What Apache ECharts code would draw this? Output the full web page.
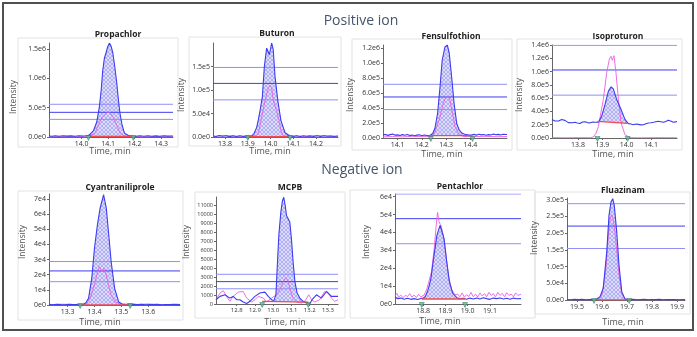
<!DOCTYPE html>
<html><head><meta charset="utf-8">
<script src="https://cdn.jsdelivr.net/npm/echarts@6/dist/echarts.min.js"></script>
<style>html,body{margin:0;padding:0;background:#fff}#c{width:697px;height:337px}</style>
</head><body><div id="c"></div>
<script>
// ---------- DATA ----------
const panelNames = ['Propachlor','Buturon','Fensulfothion','Isoproturon','Cyantraniliprole','MCPB','Pentachlor','Fluazinam'];

const propachlorBlue = [[13.877,18000],[13.89,12000],[13.90,20000],[13.915,14000],[13.93,22000],[13.945,15000],[13.96,19000],[13.975,12000],[13.99,21000],[14.005,16000],[14.015,20000],[14.026,25000],[14.035,60000],[14.045,110000],[14.057,250000],[14.067,510000],[14.074,800000],[14.080,1140000],[14.086,1340000],[14.092,1430000],[14.099,1540000],[14.105,1600000],[14.111,1550000],[14.118,1430000],[14.126,1170000],[14.133,910000],[14.139,630000],[14.145,400000],[14.153,200000],[14.162,65000],[14.177,26000],[14.19,18000],[14.205,12000],[14.22,20000],[14.235,14000],[14.25,22000],[14.265,13000],[14.28,19000],[14.295,12000],[14.31,21000],[14.325,15000],[14.345,18000]];
const propachlorPink = [[13.877,5000],[13.92,8000],[13.97,4000],[14.01,9000],[14.03,20000],[14.05,60000],[14.063,200000],[14.077,330000],[14.09,390000],[14.10,430000],[14.11,400000],[14.12,330000],[14.133,200000],[14.145,70000],[14.16,20000],[14.18,10000],[14.23,6000],[14.28,9000],[14.345,5000]];
const propachlorBase = [[14.026,10000],[14.195,10000]];
const propachlorLines = [557000,420000,300000];
const propachlorPeak = [14.105,1600000,'14.108'];

const buturonBlue = [[13.747,2000],[13.76,1000],[13.775,3000],[13.79,1500],[13.805,2500],[13.82,800],[13.835,2800],[13.85,1200],[13.865,2500],[13.88,1000],[13.895,2200],[13.907,1500],[13.917,2000],[13.928,8000],[13.939,20000],[13.947,38000],[13.954,56000],[13.964,85000],[13.973,150000],[13.983,189000],[13.990,186000],[13.995,175000],[14.005,200000],[14.012,186000],[14.020,128000],[14.032,78000],[14.046,35000],[14.064,9000],[14.086,2000],[14.10,1200],[14.115,2600],[14.13,1000],[14.145,2800],[14.16,1500],[14.175,2300],[14.19,1000],[14.205,2700],[14.22,1200],[14.235,2500],[14.25,1500],[14.265,2200],[14.28,1000],[14.297,2000]];
const buturonPink = [[13.747,1000],[13.80,3000],[13.85,1500],[13.90,2000],[13.935,3000],[13.946,6000],[13.964,49000],[13.976,78000],[13.990,103000],[13.998,110000],[14.005,105000],[14.012,78000],[14.027,56000],[14.037,35000],[14.046,13000],[14.056,2000],[14.10,2500],[14.15,1000],[14.20,3000],[14.297,1500]];
const buturonBase = [[13.900,500],[14.086,500]];
const buturonLines = [148000,114000,79000];
const buturonPeak = [14.005,200000,'13.983'];

const fensulfothionBlue = [[14.040,40000],[14.05,48000],[14.06,35000],[14.07,45000],[14.08,52000],[14.09,38000],[14.10,42000],[14.11,33000],[14.12,45000],[14.13,37000],[14.14,47000],[14.15,32000],[14.16,40000],[14.17,30000],[14.18,38000],[14.19,42000],[14.20,30000],[14.21,40000],[14.22,34000],[14.234,36000],[14.245,60000],[14.254,130000],[14.265,330000],[14.275,680000],[14.284,1040000],[14.295,1210000],[14.305,1240000],[14.313,1130000],[14.323,810000],[14.333,460000],[14.344,190000],[14.354,110000],[14.364,70000],[14.38,45000],[14.395,40000],[14.405,40000],[14.415,48000],[14.425,38000],[14.435,50000],[14.445,42000],[14.455,47000],[14.465,36000],[14.475,45000],[14.485,40000],[14.495,52000],[14.505,44000],[14.515,48000],[14.525,40000],[14.535,50000],[14.551,46000]];
const fensulfothionPink = [[14.040,15000],[14.08,20000],[14.12,15000],[14.16,22000],[14.20,18000],[14.24,20000],[14.254,80000],[14.275,280000],[14.288,460000],[14.299,540000],[14.309,550000],[14.316,500000],[14.327,320000],[14.337,150000],[14.351,60000],[14.371,20000],[14.41,18000],[14.46,22000],[14.51,17000],[14.551,20000]];
const fensulfothionBase = [[14.237,32000],[14.409,32000]];
const fensulfothionLines = [716000,547000,379000];
const fensulfothionPeak = [14.305,1240000,'14.287'];

const isoproturonBlue = [[13.693,280000],[13.698,277000],[13.705,255000],[13.712,236000],[13.72,255000],[13.726,267000],[13.733,280000],[13.739,287000],[13.746,265000],[13.753,247000],[13.76,232000],[13.767,217000],[13.777,230000],[13.787,236000],[13.797,225000],[13.808,217000],[13.818,240000],[13.829,245000],[13.839,232000],[13.849,225000],[13.86,240000],[13.870,236000],[13.884,236000],[13.897,327000],[13.911,505000],[13.925,706000],[13.936,770000],[13.945,740000],[13.959,580000],[13.977,430000],[13.993,280000],[14.007,217000],[14.018,210000],[14.028,200000],[14.038,210000],[14.048,205000],[14.058,198000],[14.069,200000],[14.079,215000],[14.089,225000],[14.10,230000],[14.110,236000],[14.12,245000],[14.130,253000],[14.14,245000],[14.151,236000],[14.161,250000],[14.171,267000],[14.181,255000],[14.192,236000],[14.20,245000],[14.207,247000]];
const isoproturonPink = [[13.693,5000],[13.75,3000],[13.80,5000],[13.85,4000],[13.863,15000],[13.874,70000],[13.884,176000],[13.894,380000],[13.904,580000],[13.918,985000],[13.929,1190000],[13.936,1230000],[13.941,1170000],[13.948,1240000],[13.956,985000],[13.966,580000],[13.977,230000],[13.993,50000],[14.014,5000],[14.06,3000],[14.12,5000],[14.207,4000]];
const isoproturonBase = [[13.880,250000],[14.004,220000]];
const isoproturonLines = [1395000,1024000,645000];
const isoproturonPeak = [13.936,770000,'13.923'];

const cyantraniliproleBlue = [[13.231,400],[13.245,200],[13.26,500],[13.275,300],[13.29,200],[13.305,400],[13.32,250],[13.335,350],[13.347,300],[13.359,500],[13.368,1500],[13.378,4400],[13.390,17700],[13.400,37500],[13.411,53000],[13.421,64000],[13.434,72800],[13.444,64000],[13.452,48500],[13.462,28700],[13.475,11000],[13.490,2000],[13.503,600],[13.515,300],[13.533,200],[13.545,400],[13.56,250],[13.575,400],[13.59,200],[13.605,350],[13.62,250],[13.635,400],[13.65,200],[13.665,350],[13.68,300],[13.695,400],[13.718,250]];
const cyantraniliprolePink = [[13.231,200],[13.28,500],[13.33,300],[13.37,600],[13.384,4400],[13.396,11000],[13.409,19900],[13.418,25400],[13.424,26500],[13.428,22100],[13.434,24300],[13.444,19900],[13.452,13200],[13.462,6600],[13.477,2200],[13.495,400],[13.53,800],[13.56,300],[13.60,700],[13.65,200],[13.718,400]];
const cyantraniliproleBase = [[13.347,0],[13.533,0]];
const cyantraniliproleLines = [28700,22500,15400];
const cyantraniliprolePeak = [13.434,72800,'13.433'];

const mcpbBlue = [[12.687,480],[12.709,850],[12.736,1030],[12.763,660],[12.781,850],[12.800,480],[12.818,480],[12.836,220],[12.855,60],[12.873,300],[12.900,850],[12.927,1220],[12.955,1330],[12.973,850],[12.991,480],[13.004,370],[13.015,1030],[13.022,3990],[13.031,7680],[13.042,10260],[13.051,11550],[13.058,11920],[13.066,11000],[13.073,9890],[13.082,9520],[13.091,9150],[13.100,7300],[13.109,4720],[13.119,2510],[13.131,1220],[13.146,660],[13.164,300],[13.183,110],[13.201,30],[13.213,480],[13.237,1030],[13.264,660],[13.292,1400],[13.319,850],[13.355,850]];
const mcpbPink = [[12.687,480],[12.709,1220],[12.727,1480],[12.745,850],[12.763,300],[12.781,850],[12.809,1330],[12.836,1400],[12.855,660],[12.882,220],[12.900,480],[12.918,850],[12.946,660],[12.964,220],[12.991,660],[13.018,1030],[13.037,1590],[13.055,2510],[13.069,2950],[13.082,2510],[13.096,1400],[13.109,660],[13.128,220],[13.155,110],[13.173,300],[13.195,1030],[13.210,480],[13.228,220],[13.255,480],[13.282,1400],[13.300,1220],[13.319,660],[13.337,300],[13.355,480]];
const mcpbBase = [[12.940,300],[13.192,220]];
const mcpbLines = [3320,2500,1700];
const mcpbPeak = [13.058,11920,'13.064'];

const pentachlorBlue = [[18.674,3700],[18.688,3000],[18.70,3300],[18.715,2700],[18.73,3200],[18.745,2600],[18.76,3000],[18.775,2500],[18.79,3100],[18.801,3300],[18.81,4200],[18.819,6800],[18.827,10000],[18.835,14200],[18.847,25400],[18.862,38500],[18.876,44000],[18.884,43700],[18.894,36600],[18.906,23600],[18.918,12400],[18.933,5900],[18.951,3500],[18.965,3000],[18.98,3200],[18.995,2700],[19.01,3300],[19.025,2800],[19.04,3400],[19.055,2800],[19.07,3500],[19.085,3000],[19.10,2600],[19.115,3300],[19.13,3000],[19.145,3400],[19.16,2800],[19.175,3200],[19.19,2700],[19.205,3300],[19.22,2900],[19.239,3000]];
const pentachlorPink = [[18.674,4500],[18.682,6000],[18.69,3800],[18.70,5000],[18.71,3500],[18.72,4800],[18.73,4200],[18.74,5800],[18.75,3800],[18.76,5000],[18.77,3600],[18.78,5400],[18.79,4000],[18.805,5000],[18.818,8900],[18.838,18200],[18.850,31300],[18.861,47100],[18.865,51200],[18.871,46200],[18.878,44300],[18.890,38700],[18.902,27500],[18.913,16300],[18.928,8000],[18.943,5200],[18.955,5500],[18.965,4000],[18.975,6200],[18.985,3800],[18.995,5200],[19.005,4200],[19.015,6500],[19.025,4000],[19.035,5600],[19.045,3800],[19.055,6200],[19.065,4500],[19.075,5800],[19.085,4000],[19.095,6500],[19.105,4800],[19.115,5800],[19.125,4000],[19.135,6500],[19.145,4800],[19.155,6000],[19.165,4000],[19.175,6300],[19.185,4800],[19.195,5500],[19.205,4000],[19.215,6200],[19.225,4800],[19.239,5500]];
const pentachlorBase = [[18.794,2800],[18.988,2800]];
const pentachlorLines = [61500,47700,33700];
const pentachlorPeak = [18.876,44000,'18.868'];

const fluazinamBlue = [[19.46,1500],[19.475,800],[19.49,2000],[19.505,1000],[19.52,1800],[19.535,700],[19.55,1500],[19.568,1000],[19.58,3000],[19.592,10000],[19.605,35000],[19.619,144000],[19.628,253000],[19.636,293000],[19.643,303000],[19.649,283000],[19.659,203000],[19.668,104000],[19.679,25000],[19.692,3000],[19.709,1000],[19.725,1800],[19.74,800],[19.755,1500],[19.77,2000],[19.785,900],[19.80,1600],[19.815,1000],[19.83,1800],[19.845,700],[19.86,1500],[19.875,1100],[19.89,1700],[19.905,900],[19.932,1500]];
const fluazinamPink = [[19.46,500],[19.52,800],[19.57,600],[19.59,3000],[19.60,15000],[19.615,90000],[19.625,190000],[19.633,245000],[19.639,255000],[19.645,240000],[19.652,200000],[19.66,140000],[19.668,75000],[19.678,20000],[19.69,3000],[19.72,600],[19.80,900],[19.932,500]];
const fluazinamBase = [[19.568,500],[19.709,500]];
const fluazinamLines = [288000,221000,154000];
const fluazinamPeak = [19.643,303000,'19.632'];

// fill windows (integration range shading)
const fillWindows = [[14.026,14.195],[13.900,14.086],[14.237,14.409],[13.880,14.004],[13.347,13.533],[13.004,13.192],[18.794,18.988],[19.568,19.709]];
const markerTimes = [[14.026,14.195],[13.900,14.086],[14.237,14.409],[13.880,14.004],[13.347,13.533],[12.940,13.192],[18.794,18.988],[19.568,19.709]];

// axis ranges and tick labels
const xRanges = [[13.877,14.345],[13.747,14.297],[14.040,14.551],[13.693,14.207],[13.231,13.718],[12.687,13.355],[18.674,19.239],[19.46,19.932]];
const yMaxes = [1600000,200000,1240000,1400000,73300,11950,61500,305000];
const xTicks = [[14.0,14.1,14.2,14.3],[13.8,13.9,14.0,14.1,14.2],[14.1,14.2,14.3,14.4],[13.8,13.9,14.0,14.1],[13.3,13.4,13.5,13.6],[12.8,12.9,13.0,13.1,13.2,13.3],[18.8,18.9,19.0,19.1],[19.5,19.6,19.7,19.8,19.9]];
const yTicks = [
  [0,500000,1000000,1500000],
  [0,50000,100000,150000],
  [0,200000,400000,600000,800000,1000000,1200000],
  [0,200000,400000,600000,800000,1000000,1200000,1400000],
  [0,10000,20000,30000,40000,50000,60000,70000],
  [0,1000,2000,3000,4000,5000,6000,7000,8000,9000,10000,11000],
  [0,10000,20000,30000,40000,50000,60000],
  [0,50000,100000,150000,200000,250000,300000]
];

// ---------- LAYOUT / STYLE ----------
const FONT = 'Open Sans, DejaVu Sans, sans-serif';
const yFormats = ['e1','e1','e1','e1','e0','int','e0','e1'];
const grids = [
  {left:49, top:43, width:124, height:94},
  {left:213, top:43, width:125, height:94},
  {left:383, top:45, width:124, height:93},
  {left:552, top:45, width:125, height:93},
  {left:49, top:194, width:131, height:111},
  {left:216, top:197, width:122, height:107},
  {left:395, top:194, width:126, height:110},
  {left:567, top:198, width:118, height:102}
];
const titlePos = [[113,30],[272,29],[446,32],[613,32],[115,183],[285,183],[455,182],[618,186]];
const intensityPos = [[14,97],[182,95],[351,95],[520,95],[23,242],[187,242],[367,242],[535,238]];
const timePos = [[110,151],[270,151],[442,154],[613,154],[100,322],[285,322],[440,321],[623,322]];
const boxes = [[18,38,160,109],[189,37,152,109],[352,39,160,111],[517,39,165,111],[18,191,165,129],[195,192,150,126],[350,190,185,128],[535,192,155,122]];
const peakLabelPos = ['right','right','right','top','right','right','top','right'];

const blueData = [propachlorBlue,buturonBlue,fensulfothionBlue,isoproturonBlue,cyantraniliproleBlue,mcpbBlue,pentachlorBlue,fluazinamBlue];
const pinkData = [propachlorPink,buturonPink,fensulfothionPink,isoproturonPink,cyantraniliprolePink,mcpbPink,pentachlorPink,fluazinamPink];
const baseData = [propachlorBase,buturonBase,fensulfothionBase,isoproturonBase,cyantraniliproleBase,mcpbBase,pentachlorBase,fluazinamBase];
const lineData = [propachlorLines,buturonLines,fensulfothionLines,isoproturonLines,cyantraniliproleLines,mcpbLines,pentachlorLines,fluazinamLines];
const peakData = [propachlorPeak,buturonPeak,fensulfothionPeak,isoproturonPeak,cyantraniliprolePeak,mcpbPeak,pentachlorPeak,fluazinamPeak];

// hatch pattern
const pc = document.createElement('canvas'); pc.width = 4; pc.height = 4;
const g2 = pc.getContext('2d');
g2.fillStyle = '#dcdcfa'; g2.fillRect(0,0,4,4);
g2.fillStyle = '#b0b0f2';
[[0,0],[1,1],[2,2],[3,3],[3,0],[2,1],[1,2],[0,3]].forEach(p=>g2.fillRect(p[0],p[1],1,1));
const hatch = {image: pc, repeat: 'repeat'};

function fmtY(v, f) {
  if (f === 'int') return String(Math.round(v));
  return v.toExponential(f === 'e1' ? 1 : 0).replace('+','');
}
function baseAt(b, t) {
  const [t1,v1] = b[0], [t2,v2] = b[1];
  return v1 + (v2 - v1) * (t - t1) / (t2 - t1);
}
function interpBlue(arr, t) {
  for (let i = 0; i < arr.length - 1; i++) {
    if (arr[i][0] <= t && arr[i+1][0] >= t) {
      const f = (t - arr[i][0]) / (arr[i+1][0] - arr[i][0]);
      return arr[i][1] + f * (arr[i+1][1] - arr[i][1]);
    }
  }
  return arr[arr.length-1][1];
}
function fillPoints(i) {
  const [a,b] = fillWindows[i], arr = blueData[i], bl = baseData[i];
  const pts = [];
  const push = t => { const bb = baseAt(bl,t); const v = interpBlue(arr,t); pts.push([t, Math.max(v,bb), bb]); };
  push(a);
  arr.forEach(p => { if (p[0] > a && p[0] < b) push(p[0]); });
  push(b);
  return pts;
}

const xAxes = [], yAxes = [], series = [], graphics = [], titles = [];
const lineColors = ['#8f8ff7','#3d3df0','#8f8ff7'];

for (let i = 0; i < 8; i++) {
  const smallFont = i === 5 ? 5.5 : 7;
  xAxes.push({
    type:'value', gridIndex:i, min:xRanges[i][0], max:xRanges[i][1],
    axisLine:{show:true, lineStyle:{color:'#666', width:1}},
    axisTick:{show:true, length:2, customValues:xTicks[i], lineStyle:{color:'#666'}},
    axisLabel:{customValues:xTicks[i], fontSize: i===5 ? 6 : 7, color:'#333', margin:3, fontFamily:FONT, formatter:v=>v.toFixed(1)},
    splitLine:{show:false}
  });
  yAxes.push({
    type:'value', gridIndex:i, min:0, max:yMaxes[i],
    axisLine:{show:true, lineStyle:{color:'#666', width:1}},
    axisTick:{show:true, length:2, customValues:yTicks[i], lineStyle:{color:'#666'}},
    axisLabel:{customValues:yTicks[i], fontSize:smallFont, color:'#333', margin:3, fontFamily:FONT, formatter:v=>fmtY(v, yFormats[i])},
    splitLine:{show:false}
  });
  const pts = fillPoints(i);
  series.push({
    type:'custom', xAxisIndex:i, yAxisIndex:i, data:pts, encode:{x:0,y:1}, silent:true, z:1, clip:true,
    renderItem:(function(pp){ return function(params, api){
      if (params.dataIndex !== 0) return null;
      const top = pp.map(p=>api.coord([p[0],p[1]]));
      const bot = pp.slice().reverse().map(p=>api.coord([p[0],p[2]]));
      return {type:'polygon', shape:{points: top.concat(bot)}, style:{fill: hatch, stroke:null}};
    };})(pts)
  });
  // horizontal threshold lines spanning the axis
  lineData[i].forEach((v, k) => {
    series.push({
      type:'line', xAxisIndex:i, yAxisIndex:i, data:[[xRanges[i][0], v],[xRanges[i][1], v]],
      showSymbol:false, symbol:'none', z:2, silent:true,
      lineStyle:{color:lineColors[k], width:1}
    });
  });
  series.push({
    type:'line', xAxisIndex:i, yAxisIndex:i, data:pinkData[i], showSymbol:false, symbol:'none', z:3,
    lineStyle:{color:'#ec5ee0', width:0.9}, silent:true, clip:true
  });
  series.push({
    type:'line', xAxisIndex:i, yAxisIndex:i, data:blueData[i], showSymbol:false, symbol:'none', z:4,
    lineStyle:{color:'#3c3cf0', width:1.1}, silent:true, clip:true
  });
  series.push({
    type:'line', xAxisIndex:i, yAxisIndex:i, data:baseData[i], showSymbol:false, symbol:'none', z:5,
    lineStyle:{color:'#f04a50', width:1.3}, silent:true
  });
  series.push({
    type:'scatter', xAxisIndex:i, yAxisIndex:i, z:6, silent:true, clip:false,
    data: markerTimes[i].map(t=>[t,0]),
    symbol:'triangle', symbolRotate:180, symbolSize:[5,5], symbolOffset:[0,1],
    itemStyle:{color:'#5cb896', borderColor:'#2a6e54', borderWidth:0.6}
  });
  const pk = peakData[i];
  series.push({
    type:'scatter', xAxisIndex:i, yAxisIndex:i, z:7, silent:true, clip:false,
    data:[[pk[0], pk[1]]], symbolSize:1, itemStyle:{opacity:0},
    label:{show:true, formatter:pk[2], position:peakLabelPos[i], distance: peakLabelPos[i]==='top' ? 3 : 4,
      offset: peakLabelPos[i]==='top' ? [0,0] : [0,5],
      fontSize: i===5 ? 4.5 : 6, color:'#444', fontFamily:FONT}
  });

  titles.push({text:panelNames[i], left:titlePos[i][0], top:titlePos[i][1], textAlign:'center', textVerticalAlign:'middle',
    textStyle:{fontSize:8.5, fontWeight:'bold', color:'#222', fontFamily:FONT}});
  graphics.push({type:'rect', shape:{x:boxes[i][0], y:boxes[i][1], width:boxes[i][2], height:boxes[i][3]},
    style:{fill:'none', stroke:'#e2e2e2', lineWidth:1}, z:-1, silent:true});
  graphics.push({type:'text', x:intensityPos[i][0], y:intensityPos[i][1], rotation:Math.PI/2,
    style:{text:'Intensity', fill:'#555', font:'8.5px ' + FONT, textAlign:'center', textVerticalAlign:'middle', align:'center', verticalAlign:'middle'}, silent:true});
  graphics.push({type:'text', x:timePos[i][0], y:timePos[i][1],
    style:{text:'Time, min', fill:'#555', font:'9px ' + FONT, textAlign:'center', textVerticalAlign:'middle', align:'center', verticalAlign:'middle'}, silent:true});
}

titles.push({text:'Positive ion', left:356, top:16, textAlign:'center', textVerticalAlign:'middle', textStyle:{fontSize:14, fontWeight:'normal', color:'#44546a', fontFamily:FONT}});
titles.push({text:'Negative ion', left:357, top:165, textAlign:'center', textVerticalAlign:'middle', textStyle:{fontSize:14, fontWeight:'normal', color:'#44546a', fontFamily:FONT}});
graphics.push({type:'rect', shape:{x:3, y:3, width:690, height:327}, style:{fill:'none', stroke:'#505050', lineWidth:2}, silent:true});

const chart = echarts.init(document.getElementById('c'), null, {renderer:'canvas'});
chart.setOption({
  animation:false,
  backgroundColor:'#fff',
  title:titles,
  grid:grids,
  xAxis:xAxes,
  yAxis:yAxes,
  series:series,
  graphic:{elements:graphics}
});
</script></body></html>
